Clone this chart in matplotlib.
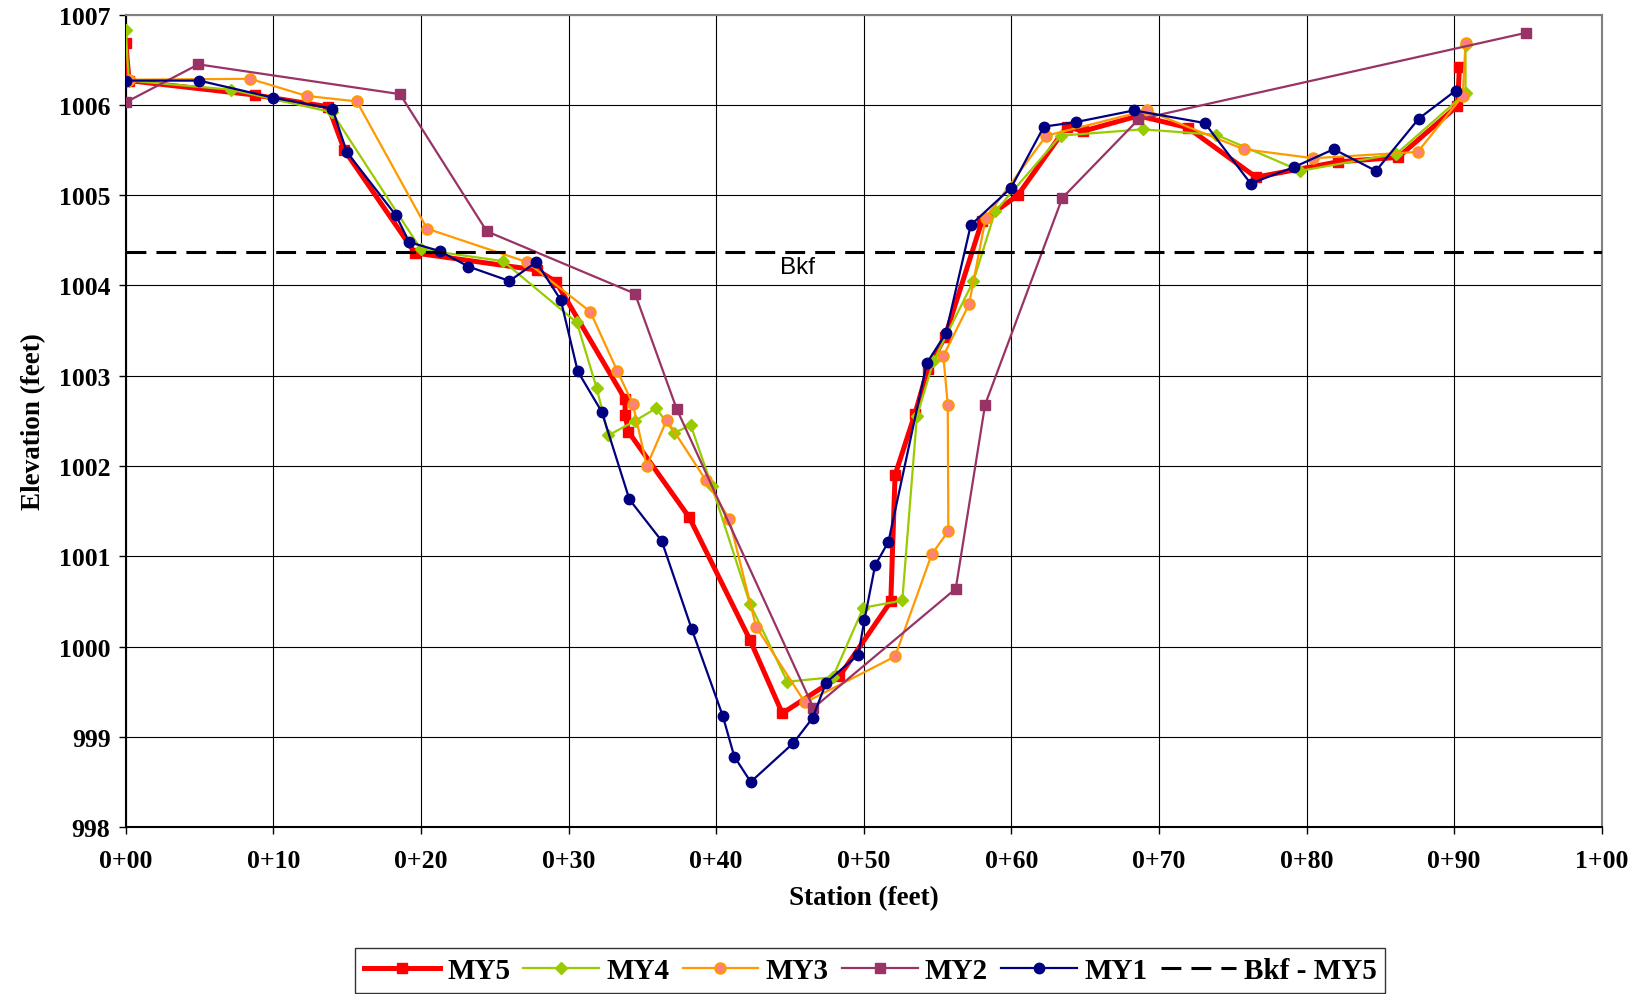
import numpy as np
import matplotlib
matplotlib.use('Agg')
import matplotlib.pyplot as plt

# cross section survey, station (ft) vs elevation (ft)
my5_x = [0, 0.22, 8.76, 13.73, 14.81, 19.6, 27.89, 29.15, 33.83, 33.83, 34.05, 38.18, 42.3, 44.48,
         48.35, 51.83, 52.12, 53.47, 54.33, 55.5, 58.0, 60.43, 63.75, 64.86, 68.61, 71.94, 76.57,
         82.12, 86.2, 90.22, 90.36]
my5_y = [1006.69, 1006.27, 1006.11, 1005.98, 1005.5, 1004.36, 1004.17, 1004.04, 1002.74, 1002.57,
         1002.38, 1001.43, 1000.07, 999.26, 999.67, 1000.5, 1001.9, 1002.58, 1003.07, 1003.43,
         1004.71, 1005.0, 1005.76, 1005.71, 1005.88, 1005.75, 1005.2, 1005.37, 1005.42, 1005.99,
         1006.42]

my4_x = [0, 0.2, 7.11, 13.96, 20.0, 25.56, 30.56, 31.91, 32.7, 34.5, 35.93, 37.17, 38.28, 39.7,
         42.3, 44.82, 47.9, 49.97, 52.61, 53.6, 54.72, 57.43, 58.9, 63.34, 68.89, 73.88, 79.57,
         86.09, 90.77, 90.77]
my4_y = [1006.83, 1006.27, 1006.17, 1005.92, 1004.4, 1004.27, 1003.59, 1002.86, 1002.34, 1002.5,
         1002.64, 1002.37, 1002.45, 1001.78, 1000.47, 999.61, 999.66, 1000.43, 1000.51, 1002.55,
         1003.16, 1004.05, 1004.82, 1005.66, 1005.73, 1005.67, 1005.27, 1005.46, 1006.13, 1006.66]

my3_x = [0.2, 8.42, 12.26, 15.65, 20.41, 27.17, 31.47, 33.31, 34.35, 35.3, 36.65, 39.31, 40.89,
         42.7, 46.02, 52.12, 54.6, 55.73, 55.69, 55.39, 57.13, 58.26, 62.37, 69.17, 75.74, 80.46,
         87.53, 90.58, 90.77]
my3_y = [1006.28, 1006.29, 1006.1, 1006.04, 1004.63, 1004.26, 1003.71, 1003.05, 1002.69, 1002.0,
         1002.51, 1001.84, 1001.41, 1000.22, 999.38, 999.89, 1001.02, 1001.28, 1002.68, 1003.22,
         1003.79, 1004.75, 1005.66, 1005.94, 1005.51, 1005.41, 1005.48, 1006.1, 1006.69]

my2_x = [0, 4.92, 18.58, 24.46, 34.5, 37.33, 46.59, 56.23, 58.22, 63.45, 68.61, 94.88]
my2_y = [1006.03, 1006.45, 1006.12, 1004.6, 1003.91, 1002.63, 999.32, 1000.64, 1002.68, 1004.97,
         1005.84, 1006.8]

my1_x = [0, 4.97, 10.0, 14.0, 14.97, 18.29, 19.21, 21.29, 23.21, 25.99, 27.82, 29.47, 30.62,
         32.25, 34.12, 36.31, 38.35, 40.45, 41.23, 42.34, 45.23, 46.54, 47.45, 49.63, 50.04, 50.77,
         51.67, 54.27, 55.56, 57.25, 59.97, 62.2, 64.36, 68.31, 73.1, 76.21, 79.13, 81.84, 84.7,
         87.61, 90.11]
my1_y = [1006.27, 1006.27, 1006.08, 1005.96, 1005.48, 1004.78, 1004.48, 1004.38, 1004.21, 1004.05,
         1004.26, 1003.84, 1003.05, 1002.6, 1001.63, 1001.17, 1000.19, 999.23, 998.78, 998.5,
         998.93, 999.21, 999.6, 999.91, 1000.29, 1000.9, 1001.16, 1003.14, 1003.47, 1004.67,
         1005.08, 1005.76, 1005.81, 1005.94, 1005.8, 1005.13, 1005.31, 1005.51, 1005.27, 1005.85,
         1006.16]

bkf_x = [0, 100]
bkf_y = [1004.37, 1004.37]

x_ticks = np.arange(0, 101, 10)
x_tick_labels = ['0+00', '0+10', '0+20', '0+30', '0+40', '0+50', '0+60', '0+70', '0+80', '0+90', '1+00']
y_ticks = np.arange(998, 1008, 1)

serif = ['Liberation Serif', 'DejaVu Serif']

fig = plt.figure(figsize=(16.42, 9.95), dpi=100)
ax = fig.add_axes([0.0766, 0.1678, 0.8989, 0.8164])

ax.plot(my5_x, my5_y, color='#FF0000', lw=3.6, marker='s', ms=7.5, label='MY5', zorder=3)
ax.plot(my4_x, my4_y, color='#99CC00', lw=1.6, marker='D', ms=6, label='MY4', zorder=4)
ax.plot(my3_x, my3_y, color='#FF9900', lw=1.6, marker='o', ms=7.5, mfc='#FF8080', mec='#FF9900',
        mew=1.5, label='MY3', zorder=5)
ax.plot(my2_x, my2_y, color='#993366', lw=1.6, marker='s', ms=7, label='MY2', zorder=6)
ax.plot(my1_x, my1_y, color='#000080', lw=1.6, marker='o', ms=7.5, label='MY1', zorder=7)
ax.plot(bkf_x, bkf_y, color='black', lw=2.2, dashes=(6.5, 3.3), label='Bkf - MY5', zorder=8)

ax.text(44.3, 1004.14, 'Bkf', family=['Liberation Sans', 'DejaVu Sans'], fontsize=17.5, zorder=9)

ax.set_xlim(0, 100)
ax.set_ylim(998, 1007)
ax.set_xticks(x_ticks)
ax.set_xticklabels(x_tick_labels)
ax.set_yticks(y_ticks)
ax.set_yticklabels([str(v) for v in y_ticks])
for lab in ax.get_xticklabels() + ax.get_yticklabels():
    lab.set_family(serif)
    lab.set_fontweight('bold')
    lab.set_fontsize(18.5)
ax.tick_params(axis='x', length=5, width=1, pad=11)
ax.tick_params(axis='y', length=5, width=1, pad=6)

ax.grid(True, color='black', lw=0.8, zorder=0)
ax.set_axisbelow(True)
ax.spines['left'].set_color('black')
ax.spines['bottom'].set_color('black')
ax.spines['top'].set_color('#808080')
ax.spines['right'].set_color('#808080')
for s in ax.spines.values():
    s.set_linewidth(1.5)

ax.set_xlabel('Station (feet)', family=serif, fontweight='bold', fontsize=19.5)
ax.set_ylabel('Elevation (feet)', family=serif, fontweight='bold', fontsize=19.5)
ax.xaxis.set_label_coords(0.5, -0.071)
ax.yaxis.set_label_coords(-0.054, 0.5)

leg = fig.legend(loc='center', bbox_to_anchor=(0.530, 0.0236), ncol=6, frameon=True,
                 fancybox=False, edgecolor='black', handlelength=2.6, handletextpad=0.25,
                 columnspacing=0.45, borderpad=0.3,
                 prop={'family': serif, 'weight': 'bold', 'size': 21})
leg.get_frame().set_linewidth(1.0)

fig.savefig('out.png', dpi=100)
